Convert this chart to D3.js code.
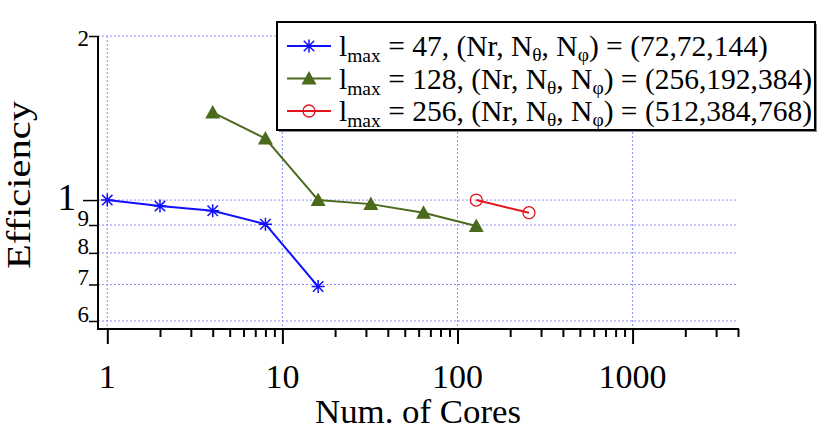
<!DOCTYPE html>
<html>
<head>
<meta charset="utf-8">
<script src="https://cdn.jsdelivr.net/npm/d3@7"></script>
<style>
  body { margin: 0; background: #fff; }
  svg { font-family: "Liberation Serif", "DejaVu Serif", serif; }
</style>
</head>
<body>
<div id="chart"></div>
<script>
// data
const cores47 = [1, 2, 4, 8, 16];
const eff47 = [1.0, 0.975, 0.956, 0.903, 0.694];
const cores128 = [4, 8, 16, 32, 64, 128];
const eff128 = [1.448, 1.297, 1.0, 0.983, 0.948, 0.896];
const cores256 = [128, 256];
const eff256 = [1.0, 0.948];

const xMajorTicks = [1, 10, 100, 1000];
const yMajorTicks = [1];
const yTickValues = [0.6, 0.7, 0.8, 0.9, 1, 2];
const seriesNames = ["47", "128", "256"];
const seriesGrids = ["(72,72,144)", "(256,192,384)", "(512,384,768)"];

var width = 822, height = 433;
var plotLeft = 98, plotRight = 738, plotTop = 36, plotBottom = 329;

var svg = d3.select("#chart").append("svg")
  .attr("width", width)
  .attr("height", height);

var x = d3.scaleLog().domain([0.885, 4000]).range([plotLeft, plotRight]);
var y = d3.scaleLog().domain([0.58, 2]).range([plotBottom, plotTop]);

// minor ticks on x: 1..9 per decade up to 4000
var xTickValues = [];
[1, 10, 100, 1000].forEach(function(d) {
  for (var k = 1; k <= 9; k++) {
    if (d * k <= 4000) xTickValues.push(d * k);
  }
});

// grid
var grid = svg.append("g")
  .attr("stroke", "#8f8fff")
  .attr("stroke-width", 1)
  .attr("stroke-dasharray", "2,2");
grid.selectAll(".vg").data(xMajorTicks).enter().append("line")
  .attr("x1", function(d) { return x(d); })
  .attr("x2", function(d) { return x(d); })
  .attr("y1", plotTop).attr("y2", plotBottom);
grid.selectAll(".hg").data(yTickValues).enter().append("line")
  .attr("x1", plotLeft).attr("x2", plotRight)
  .attr("y1", function(d) { return y(d); })
  .attr("y2", function(d) { return y(d); });

var series = [
  { cores: cores47, eff: eff47, color: "#1010ff", marker: "star" },
  { cores: cores128, eff: eff128, color: "#4a6a1c", marker: "triangle" },
  { cores: cores256, eff: eff256, color: "#e3141c", marker: "circle" },
];

function drawMarker(g, type, color) {
  if (type == "star") {
    var r = 6.5;
    g.append("path")
      .attr("d", "M0," + (-r) + "V" + r + "M" + (-r) + ",0H" + r +
        "M" + (-r * 0.8) + "," + (-r * 0.8) + "L" + (r * 0.8) + "," + (r * 0.8) +
        "M" + (-r * 0.8) + "," + (r * 0.8) + "L" + (r * 0.8) + "," + (-r * 0.8))
      .attr("stroke", color)
      .attr("stroke-width", 1.5)
      .attr("fill", "none");
  } else if (type == "triangle") {
    g.append("path")
      .attr("d", "M0,-7.5L7.5,6L-7.5,6Z")
      .attr("fill", color);
  } else {
    g.append("circle")
      .attr("r", 6)
      .attr("fill", "none")
      .attr("stroke", color)
      .attr("stroke-width", 1.3);
  }
}

var line = d3.line()
  .x(function(d) { return x(d[0]); })
  .y(function(d) { return y(d[1]); });

series.forEach(function(s) {
  var pts = s.cores.map(function(c, i) { return [c, s.eff[i]]; });
  svg.append("path")
    .datum(pts)
    .attr("d", line)
    .attr("fill", "none")
    .attr("stroke", s.color)
    .attr("stroke-width", 2);
  pts.forEach(function(p) {
    var g = svg.append("g")
      .attr("transform", "translate(" + x(p[0]) + "," + y(p[1]) + ")");
    drawMarker(g, s.marker, s.color);
  });
});

// x axis
var xAxis = svg.append("g")
  .attr("transform", "translate(0," + plotBottom + ")")
  .call(d3.axisBottom(x).tickValues(xTickValues).tickSizeOuter(0).tickFormat(""));
xAxis.select(".domain").attr("stroke-width", 2).attr("d", "M" + (plotLeft - 1) + ",0H" + (plotRight + 1));
xAxis.selectAll(".tick line")
  .attr("stroke-width", 2)
  .attr("y2", function(d) { return xMajorTicks.indexOf(d) >= 0 ? 15 : 8; });
svg.append("g").selectAll("text").data(xMajorTicks).enter().append("text")
  .attr("x", function(d) { return x(d); })
  .attr("y", 388)
  .attr("text-anchor", "middle")
  .style("font-size", "34px")
  .text(function(d) { return d; });

// y axis
var yAxis = svg.append("g")
  .attr("transform", "translate(" + plotLeft + ",0)")
  .call(d3.axisLeft(y).tickValues(yTickValues).tickSizeOuter(0).tickFormat(""));
yAxis.select(".domain").attr("stroke-width", 2).attr("d", "M0," + plotTop + "V" + (plotBottom + 1));
yAxis.selectAll(".tick line")
  .attr("stroke-width", 1.5)
  .attr("x2", function(d) { return yMajorTicks.indexOf(d) >= 0 ? -15 : -9; });
svg.append("g").selectAll("text").data(yTickValues).enter().append("text")
  .attr("x", function(d) { return yMajorTicks.indexOf(d) >= 0 ? plotLeft - 22 : plotLeft - 9; })
  .attr("y", function(d) {
    if (yMajorTicks.indexOf(d) >= 0) return y(d) + 10;
    // keep the top label inside the frame
    return y(d) - 20 < plotTop - 10 ? y(d) + 10 : y(d) + 1;
  })
  .attr("text-anchor", "end")
  .attr("font-size", function(d) { return yMajorTicks.indexOf(d) >= 0 ? 37 : 23; })
  .text(function(d) { return yMajorTicks.indexOf(d) >= 0 ? d : Math.round(d * 10) % 10 || d; });

// axis titles
svg.append("text")
  .attr("x", (plotLeft + plotRight) / 2)
  .attr("y", 423)
  .attr("text-anchor", "middle")
  .attr("textLength", 206)
  .attr("lengthAdjust", "spacingAndGlyphs")
  .style("font-size", "34px")
  .text("Num. of Cores");
svg.append("text")
  .attr("transform", "translate(30,185) rotate(-90)")
  .attr("text-anchor", "middle")
  .attr("textLength", 168)
  .attr("lengthAdjust", "spacingAndGlyphs")
  .style("font-size", "34px")
  .text("Efficiency");

// legend
var lx = 277, ly = 22, lw = 538, lh = 108;
svg.append("rect")
  .attr("x", lx + 2).attr("y", ly + 2)
  .attr("width", lw).attr("height", lh)
  .attr("fill", "#888");
svg.append("rect")
  .attr("x", lx).attr("y", ly)
  .attr("width", lw).attr("height", lh)
  .attr("fill", "#fff")
  .attr("stroke", "#000")
  .attr("stroke-width", 2);

series.forEach(function(s, i) {
  var cy = 46 + i * 32.5;
  svg.append("line")
    .attr("x1", 287).attr("x2", 331)
    .attr("y1", cy).attr("y2", cy)
    .attr("stroke", s.color)
    .attr("stroke-width", 2);
  var g = svg.append("g").attr("transform", "translate(309," + cy + ")");
  drawMarker(g, s.marker, s.color);

  var t = svg.append("text")
    .attr("x", 339)
    .attr("y", cy + 10)
    .style("font-size", "29.5px");
  t.append("tspan").text("l");
  t.append("tspan").attr("dy", 6).style("font-size", "19.5px").text("max");
  t.append("tspan").attr("dy", -6).text(" = " + seriesNames[i] + ", (Nr, N");
  t.append("tspan").attr("dy", 5).style("font-size", "19.5px").text("θ");
  t.append("tspan").attr("dy", -5).text(", N");
  t.append("tspan").attr("dy", 5).style("font-size", "19.5px").text("φ");
  t.append("tspan").attr("dy", -5).text(") = " + seriesGrids[i]);
});
</script>
</body>
</html>
